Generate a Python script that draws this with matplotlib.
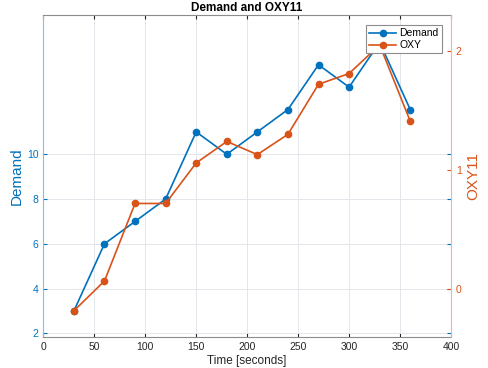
#!/usr/bin/env python
import numpy as np
from matplotlib import pyplot as plt

# sample times and the two series
time_s = [30, 60, 90, 120, 150, 180, 210, 240, 270, 300, 330, 360]
demand = [3, 6, 7, 8, 11, 10, 11, 12, 14, 13, 15, 12]
oxy = [-0.18, 0.07, 0.72, 0.72, 1.06, 1.24, 1.13, 1.30, 1.72, 1.81, 2.05, 1.41]

x_ticks = [0, 50, 100, 150, 200, 250, 300, 350, 400]
demand_ticks = [2, 4, 6, 8, 10]
oxy_ticks = [0, 1, 2]

blue = "#0072BD"
orange = "#D95319"


def main():
    p = plt.rcParams
    p["font.family"] = ["Liberation Sans", "DejaVu Sans"]
    p["font.size"] = 7.5

    fig = plt.figure(figsize=(4.89, 3.68), dpi=100)
    ax = fig.add_axes([0.0886, 0.0842, 0.9223 - 0.0886, 0.959 - 0.0842])
    ax2 = ax.twinx()

    l1, = ax.plot(time_s, demand, "-o", color=blue, lw=1.2, ms=4.5, label="Demand")
    l2, = ax2.plot(time_s, oxy, "-o", color=orange, lw=1.2, ms=4.5, label="OXY")

    ax.set_xlim(0, 400)
    ax.set_ylim(1.835, 16.22)
    ax2.set_ylim(-0.4, 2.30)
    ax.set_xticks(x_ticks)
    ax.set_yticks(demand_ticks)
    ax2.set_yticks(oxy_ticks)

    ax.grid(True, color="#e3e6ea", lw=0.7)
    ax.set_axisbelow(True)

    ax.tick_params(axis="x", direction="in", length=3, colors="#262626",
                   top=True, labelsize=7.5)
    ax.tick_params(axis="y", direction="in", length=3, colors=blue,
                   right=True, labelsize=7.5)
    ax2.tick_params(axis="y", direction="in", length=3, colors=orange, labelsize=7.5)

    for s in ("top", "bottom"):
        ax.spines[s].set_color("#8c8c8c")
    ax.spines["left"].set_color("#8fbde0")
    ax2.spines["left"].set_visible(False)
    ax2.spines["top"].set_visible(False)
    ax2.spines["bottom"].set_visible(False)
    ax2.spines["right"].set_color("#efb49b")
    ax.spines["right"].set_visible(False)

    ax.set_xlabel("Time [seconds]", fontsize=8.5, color="#262626", labelpad=2)
    ax.set_ylabel("Demand", fontsize=11, color=blue, labelpad=2)
    ax2.set_ylabel("OXY11", fontsize=11, color=orange, labelpad=3)
    ax.set_title("Demand and OXY11", fontsize=8.5, fontweight="bold", pad=3)

    leg = ax2.legend(handles=[l1, l2], loc="upper right",
                     bbox_to_anchor=(1 - 9.3 / 408, 1 - 10 / 322),
                     borderaxespad=0, fancybox=False, framealpha=1,
                     edgecolor="#8c8c8c", fontsize=7.5, handlelength=2.6,
                     borderpad=0.3, labelspacing=0.2, handletextpad=0.3)
    leg.get_frame().set_linewidth(0.8)

    plt.savefig("out.png", dpi=100)
    plt.close()


if __name__ == "__main__":
    main()
